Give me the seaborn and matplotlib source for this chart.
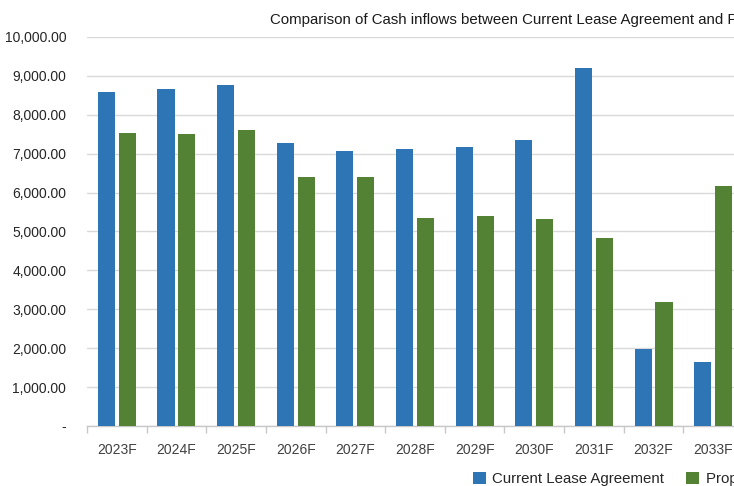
import matplotlib
matplotlib.use("Agg")
import matplotlib.pyplot as plt
import seaborn as sns
import pandas as pd
from matplotlib.ticker import FuncFormatter, FixedLocator

categories = ["2023F", "2024F", "2025F", "2026F", "2027F", "2028F",
              "2029F", "2030F", "2031F", "2032F", "2033F"]
current_lease = [8580, 8665, 8775, 7265, 7060, 7115, 7180, 7345, 9205, 1980, 1635]
proposed_lease = [7530, 7515, 7600, 6395, 6400, 5345, 5390, 5315, 4825, 3190, 6180]
series_names = ["Current Lease Agreement", "Proposed Lease Agreement"]
title_text = "Comparison of Cash inflows between Current Lease Agreement and Proposed Lease Agreement"

df = pd.DataFrame({
    "Year": categories * 2,
    "Value": current_lease + proposed_lease,
    "Series": [series_names[0]] * len(categories) + [series_names[1]] * len(categories),
})

sns.set_theme(style="white")
plt.rcParams["font.family"] = ["Liberation Sans", "DejaVu Sans"]

W, H = 734, 486
fig = plt.figure(figsize=(W / 100, H / 100), dpi=100)
left, right, top, bottom = 87, 743, 37, 426
ax = fig.add_axes([left / W, (H - bottom) / H, (right - left) / W, (bottom - top) / H])

palette = {series_names[0]: "#2E75B6", series_names[1]: "#548235"}
sns.barplot(data=df, x="Year", y="Value", hue="Series", hue_order=series_names,
            order=categories, palette=palette, width=0.7, gap=0.18,
            saturation=1, linewidth=0, ax=ax, zorder=3)

ax.set_ylim(0, 10000)
ax.set_xlim(-0.5, len(categories) - 0.5)
ax.set_yticks(range(0, 10001, 1000))
ax.yaxis.set_major_formatter(FuncFormatter(lambda v, p: "-" if v == 0 else f"{v:,.2f}"))
ax.grid(axis="y", color="#d9d9d9", linewidth=1, zorder=0)
ax.set_axisbelow(True)
for s in ["top", "right", "left"]:
    ax.spines[s].set_visible(False)
ax.spines["bottom"].set_color("#c8c8c8")
ax.spines["bottom"].set_linewidth(1)
ax.set_xlabel("")
ax.set_ylabel("")
ax.tick_params(axis="y", length=0, pad=15, labelsize=10, labelcolor="#262626")
ax.tick_params(axis="x", which="major", length=0, pad=12, labelsize=10, labelcolor="#404040")
ax.xaxis.set_minor_locator(FixedLocator([i - 0.5 for i in range(len(categories) + 1)]))
ax.tick_params(axis="x", which="minor", length=5, width=1, color="#c8c8c8", bottom=True)

handles, labels = ax.get_legend_handles_labels()
if ax.get_legend() is not None:
    ax.get_legend().remove()
fig.legend(handles, labels, loc="center left", bbox_to_anchor=(473 / W, (H - 479) / H),
           ncol=2, frameon=False, fontsize=10.8, handlelength=0.85, handleheight=0.85,
           handletextpad=0.45, columnspacing=1.45, borderpad=0, borderaxespad=0,
           labelcolor="#262626")

fig.text(270 / W, 1 - 20 / H, title_text, ha="left", va="center", fontsize=10.8, color="#1a1a1a")

fig.savefig("out.png", dpi=100)
